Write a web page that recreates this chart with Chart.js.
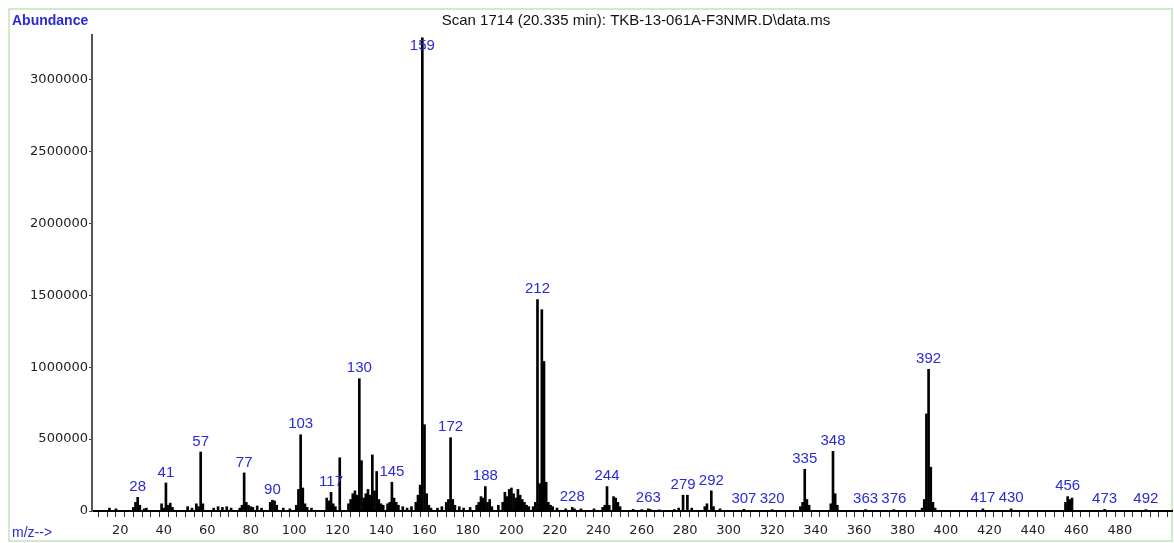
<!DOCTYPE html>
<html>
<head>
<meta charset="utf-8">
<script src="https://cdn.jsdelivr.net/npm/chart.js@4.4.1/dist/chart.umd.min.js"></script>
<style>
  body { margin: 0; background: #fff; }
  #wrap { position: relative; width: 1174px; height: 543px; }
</style>
</head>
<body>
<div id="wrap"><canvas id="ms-chart"></canvas></div>
<script>
// spectrum (m/z, abundance)
const mz = [15, 18, 26, 27, 28, 29, 31, 32, 39, 40, 41, 42, 43, 44, 51, 53, 55, 56, 57, 58,
  63, 65, 67, 69, 71, 75, 76, 77, 78, 79, 80, 81, 83, 85, 89, 90, 91, 92, 95, 98,
  101, 102, 103, 104, 105, 106, 108, 115, 116, 117, 118, 119, 121, 125, 126, 127, 128, 129, 130, 131,
  132, 133, 134, 135, 136, 137, 138, 139, 140, 141, 143, 144, 145, 146, 147, 148, 150, 152, 154, 156,
  157, 158, 159, 160, 161, 162, 163, 166, 168, 170, 171, 172, 173, 174, 176, 178, 181, 184, 185, 186,
  187, 188, 189, 190, 191, 194, 196, 197, 198, 199, 200, 201, 202, 203, 204, 205, 206, 207, 208, 210,
  211, 212, 213, 214, 215, 216, 217, 218, 219, 221, 225, 228, 229, 232, 238, 242, 243, 244, 245, 247,
  248, 249, 250, 256, 260, 263, 264, 268, 275, 277, 279, 281, 283, 289, 290, 292, 293, 296, 307, 320,
  333, 334, 335, 336, 337, 347, 348, 349, 350, 363, 376, 389, 390, 391, 392, 393, 394, 395, 417, 430,
  455, 456, 457, 458, 473, 492];
const abundance = [20000, 15000, 25000, 60000, 95000, 40000, 15000, 20000, 50000, 20000, 195000, 40000, 55000, 25000, 30000, 20000, 50000, 30000, 410000, 50000,
  20000, 30000, 25000, 30000, 20000, 20000, 40000, 265000, 60000, 40000, 30000, 25000, 35000, 20000, 60000, 75000, 70000, 40000, 20000, 15000,
  40000, 150000, 530000, 160000, 50000, 25000, 20000, 90000, 70000, 130000, 50000, 30000, 370000, 50000, 80000, 120000, 140000, 110000, 920000, 350000,
  90000, 120000, 150000, 110000, 390000, 140000, 275000, 80000, 50000, 40000, 50000, 60000, 200000, 90000, 60000, 40000, 30000, 20000, 30000, 60000,
  110000, 180000, 3290000, 600000, 120000, 40000, 20000, 20000, 30000, 60000, 80000, 510000, 80000, 40000, 30000, 20000, 25000, 40000, 60000, 100000,
  90000, 170000, 60000, 80000, 30000, 40000, 60000, 130000, 100000, 150000, 160000, 120000, 90000, 150000, 110000, 80000, 60000, 40000, 30000, 30000,
  60000, 1470000, 190000, 1400000, 1040000, 200000, 60000, 40000, 30000, 20000, 15000, 25000, 15000, 15000, 15000, 25000, 40000, 170000, 40000, 100000,
  90000, 60000, 30000, 12000, 10000, 15000, 10000, 8000, 10000, 20000, 110000, 110000, 20000, 30000, 50000, 140000, 30000, 15000, 12000, 10000,
  30000, 60000, 290000, 80000, 40000, 50000, 415000, 120000, 40000, 10000, 10000, 20000, 80000, 675000, 985000, 305000, 60000, 20000, 15000, 15000,
  60000, 100000, 80000, 90000, 12000, 10000];
const labeledMz = [28, 41, 57, 77, 90, 103, 117, 130, 145, 159, 172, 188, 212, 228, 244, 263,
  279, 292, 307, 320, 335, 348, 363, 376, 392, 417, 430, 456, 473, 492];
const yTicks = [0, 500000, 1000000, 1500000, 2000000, 2500000, 3000000];
const xLabelStep = 20;

const points = mz.map((m, i) => ({ x: m, y: abundance[i] }));

const textPlugin = {
  id: 'msText',
  beforeDraw(chart) {
    const ctx = chart.ctx;
    ctx.save();
    ctx.fillStyle = '#fff';
    ctx.fillRect(0, 0, chart.width, chart.height);
    ctx.strokeStyle = '#cdeccd';
    ctx.lineWidth = 2;
    ctx.strokeRect(9, 9, chart.width - 11, chart.height - 11);
    ctx.restore();
  },
  afterDatasetsDraw(chart) {
    const ctx = chart.ctx;
    const xs = chart.scales.x, ys = chart.scales.y;
    const area = chart.chartArea;
    ctx.save();
    // header texts
    ctx.fillStyle = '#2a2ad6';
    ctx.font = 'bold 14px "Liberation Sans", Arial';
    ctx.textBaseline = 'middle';
    ctx.textAlign = 'left';
    ctx.fillText('Abundance', 12, 21);
    ctx.font = '14px "Liberation Sans", Arial';
    ctx.fillText('m/z-->', 12, 533);
    ctx.fillStyle = '#111';
    ctx.font = '15px "Liberation Sans", Arial';
    ctx.textAlign = 'center';
    ctx.fillText('Scan 1714 (20.335 min): TKB-13-061A-F3NMR.D\\data.ms', 636, 21);
    // peak labels
    ctx.fillStyle = '#2a2ad6';
    ctx.font = '15px "Liberation Sans", Arial';
    ctx.textBaseline = 'bottom';
    labeledMz.forEach(m => {
      const i = mz.indexOf(m);
      if (i < 0) return;
      const px = xs.getPixelForValue(m);
      let py = ys.getPixelForValue(abundance[i]) - 3;
      if (py < area.top + 18) py = area.top + 18;
      ctx.fillText(String(m), px, py);
    });
    ctx.restore();
  }
};

new Chart(document.getElementById('ms-chart').getContext('2d'), {
  type: 'bar',
  data: {
    datasets: [{
      data: points,
      backgroundColor: '#000',
      borderWidth: 0,
      barThickness: 2
    }]
  },
  options: {
    responsive: true,
    maintainAspectRatio: false,
    animation: false,
    events: [],
    layout: { padding: { top: 35, right: 2, left: 0, bottom: 0 } },
    plugins: { legend: { display: false }, tooltip: { enabled: false } },
    scales: {
      x: {
        type: 'linear',
        min: 9,
        max: 502,
        afterBuildTicks: scale => {
          const t = [];
          for (let v = 12; v <= 500; v += 4) t.push({ value: v });
          scale.ticks = t;
        },
        afterFit: scale => { scale.height = 32; },
        ticks: {
          autoSkip: false,
          maxRotation: 0,
          padding: 6,
          color: '#222',
          font: { family: 'DejaVu Sans', size: 13 },
          callback: v => (v % xLabelStep === 0 && v < 500 ? String(v) : '')
        },
        grid: { drawOnChartArea: false, tickLength: 6, color: '#333', tickWidth: 1 },
        border: { color: '#000', width: 2 }
      },
      y: {
        min: 0,
        max: 3310000,
        afterBuildTicks: scale => {
          scale.ticks = yTicks.map(v => ({ value: v }));
        },
        afterFit: scale => { scale.width = 92; },
        ticks: {
          padding: 1,
          color: '#222',
          font: { family: 'DejaVu Sans', size: 13 },
          callback: v => String(v)
        },
        grid: { drawOnChartArea: false, tickLength: 3, color: '#444' },
        border: { color: '#555', width: 2 }
      }
    }
  },
  plugins: [textPlugin]
});
</script>
</body>
</html>
